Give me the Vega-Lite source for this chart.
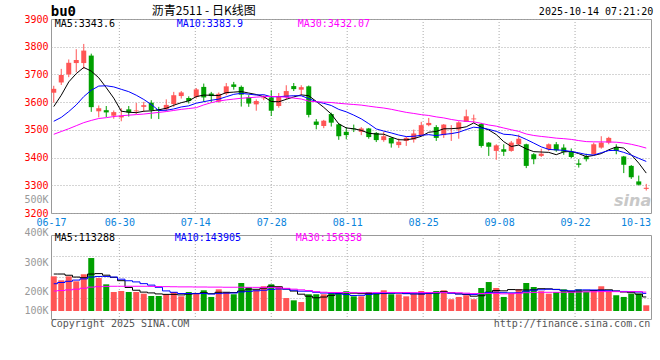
{
  "$schema": "https://vega.github.io/schema/vega-lite/v6.json",
  "background": "white",
  "padding": {"left": 23, "top": 4, "right": 5, "bottom": 5},
  "bounds": "flush",
  "spacing": 22,
  "config": {
    "view": {"stroke": "#999999"},
    "axis": {"labelFont": "DejaVu Sans Mono", "labelFontSize": 10, "labelOverlap": false},
    "text": {"font": "DejaVu Sans Mono", "fontSize": 10}
  },
  "datasets": {
    "one": [{}],
    "grid": [
      {"d": "06-30", "k": 9}, {"d": "07-14", "k": 19}, {"d": "07-28", "k": 29}, {"d": "08-11", "k": 39},
      {"d": "08-25", "k": 49}, {"d": "09-08", "k": 59}, {"d": "09-22", "k": 69}
    ],
    "k": [
      {"d":"06-17","o":3634,"h":3659,"l":3598,"c":3648,"v":286000,"ma5":3584,"ma10":3531,"ma30":3484,"vma5":305000,"vma10":225000,"vma30":165000},
      {"d":"06-18","o":3671,"h":3720,"l":3662,"c":3698,"v":253000,"ma5":3625,"ma10":3545,"ma30":3494,"vma5":305000,"vma10":235000,"vma30":169000},
      {"d":"06-19","o":3700,"h":3754,"l":3690,"c":3742,"v":286000,"ma5":3673,"ma10":3566,"ma30":3504,"vma5":295000,"vma10":245000,"vma30":174000},
      {"d":"06-20","o":3741,"h":3791,"l":3708,"c":3752,"v":245000,"ma5":3703,"ma10":3590,"ma30":3515,"vma5":280000,"vma10":255000,"vma30":180000},
      {"d":"06-23","o":3741,"h":3810,"l":3720,"c":3786,"v":303000,"ma5":3725.2,"ma10":3620,"ma30":3526,"vma5":274600,"vma10":265000,"vma30":188000},
      {"d":"06-24","o":3768,"h":3775,"l":3565,"c":3582,"v":437000,"ma5":3712,"ma10":3643,"ma30":3534,"vma5":304800,"vma10":280000,"vma30":197000},
      {"d":"06-25","o":3567,"h":3588,"l":3545,"c":3578,"v":272000,"ma5":3688,"ma10":3658,"ma30":3541,"vma5":308600,"vma10":285000,"vma30":201000},
      {"d":"06-26","o":3571,"h":3586,"l":3546,"c":3563,"v":220000,"ma5":3652.2,"ma10":3659,"ma30":3544,"vma5":295400,"vma10":285000,"vma30":203000},
      {"d":"06-27","o":3551,"h":3570,"l":3540,"c":3564,"v":157000,"ma5":3614.6,"ma10":3655,"ma30":3548,"vma5":277800,"vma10":280000,"vma30":204000},
      {"d":"06-30","o":3545,"h":3578,"l":3531,"c":3550,"v":165000,"ma5":3567.4,"ma10":3646.3,"ma30":3551,"vma5":250200,"vma10":262400,"vma30":204000},
      {"d":"07-01","o":3574,"h":3586,"l":3548,"c":3563,"v":157000,"ma5":3563.6,"ma10":3637.8,"ma30":3553,"vma5":194200,"vma10":249500,"vma30":204000},
      {"d":"07-02","o":3567,"h":3597,"l":3557,"c":3570,"v":157000,"ma5":3562,"ma10":3625,"ma30":3555,"vma5":171200,"vma10":239900,"vma30":204000},
      {"d":"07-03","o":3583,"h":3601,"l":3565,"c":3589,"v":143000,"ma5":3567.2,"ma10":3609.7,"ma30":3557,"vma5":155800,"vma10":225600,"vma30":204000},
      {"d":"07-04","o":3598,"h":3607,"l":3540,"c":3571,"v":124000,"ma5":3568.6,"ma10":3591.6,"ma30":3560,"vma5":149200,"vma10":213500,"vma30":203000},
      {"d":"07-07","o":3575,"h":3583,"l":3539,"c":3569,"v":124000,"ma5":3572.4,"ma10":3569.9,"ma30":3563,"vma5":141000,"vma10":195600,"vma30":202000},
      {"d":"07-08","o":3574,"h":3610,"l":3568,"c":3590,"v":138000,"ma5":3577.8,"ma10":3570.7,"ma30":3566,"vma5":137200,"vma10":165700,"vma30":201000},
      {"d":"07-09","o":3593,"h":3637,"l":3583,"c":3625,"v":157000,"ma5":3588.8,"ma10":3575.4,"ma30":3570,"vma5":137200,"vma10":154200,"vma30":200000},
      {"d":"07-10","o":3622,"h":3640,"l":3613,"c":3635,"v":121000,"ma5":3598,"ma10":3582.6,"ma30":3574,"vma5":132800,"vma10":144300,"vma30":199000},
      {"d":"07-11","o":3615,"h":3621,"l":3595,"c":3604,"v":157000,"ma5":3604.6,"ma10":3586.6,"ma30":3577,"vma5":139400,"vma10":144300,"vma30":199000},
      {"d":"07-14","o":3619,"h":3651,"l":3613,"c":3646,"v":149000,"ma5":3620,"ma10":3596.2,"ma30":3580,"vma5":144400,"vma10":142700,"vma30":198000},
      {"d":"07-15","o":3655,"h":3667,"l":3601,"c":3617,"v":171000,"ma5":3625.4,"ma10":3601.6,"ma30":3590,"vma5":151000,"vma10":144100,"vma30":198000},
      {"d":"07-16","o":3631,"h":3637,"l":3599,"c":3622,"v":116000,"ma5":3624.8,"ma10":3606.8,"ma30":3598,"vma5":142800,"vma10":140000,"vma30":197000},
      {"d":"07-17","o":3602,"h":3635,"l":3598,"c":3630,"v":179000,"ma5":3623.8,"ma10":3610.9,"ma30":3604,"vma5":154400,"vma10":143600,"vma30":197000},
      {"d":"07-18","o":3631,"h":3669,"l":3625,"c":3657,"v":157000,"ma5":3634.4,"ma10":3619.5,"ma30":3608,"vma5":154400,"vma10":146900,"vma30":196000},
      {"d":"07-21","o":3664,"h":3673,"l":3645,"c":3655,"v":138000,"ma5":3636.2,"ma10":3628.1,"ma30":3611,"vma5":152200,"vma10":148300,"vma30":196000},
      {"d":"07-22","o":3655,"h":3660,"l":3584,"c":3627,"v":231000,"ma5":3638.2,"ma10":3631.8,"ma30":3614,"vma5":164200,"vma10":157600,"vma30":196000},
      {"d":"07-23","o":3617,"h":3625,"l":3583,"c":3595,"v":198000,"ma5":3632.8,"ma10":3628.8,"ma30":3616,"vma5":180600,"vma10":161700,"vma30":195000},
      {"d":"07-24","o":3592,"h":3610,"l":3569,"c":3604,"v":171000,"ma5":3627.6,"ma10":3625.7,"ma30":3618,"vma5":179000,"vma10":166700,"vma30":195000},
      {"d":"07-25","o":3614,"h":3625,"l":3607,"c":3617,"v":204000,"ma5":3619.6,"ma10":3627,"ma30":3620,"vma5":188400,"vma10":171400,"vma30":195000},
      {"d":"07-28","o":3617,"h":3643,"l":3550,"c":3569,"v":220000,"ma5":3602.4,"ma10":3619.3,"ma30":3620.6,"vma5":204800,"vma10":178500,"vma30":194500},
      {"d":"07-29","o":3586,"h":3633,"l":3580,"c":3621,"v":204000,"ma5":3601.2,"ma10":3619.7,"ma30":3619.7,"vma5":199400,"vma10":181800,"vma30":191800},
      {"d":"07-30","o":3619,"h":3661,"l":3610,"c":3640,"v":107000,"ma5":3610.2,"ma10":3621.5,"ma30":3617.8,"vma5":181200,"vma10":180900,"vma30":186900},
      {"d":"07-31","o":3658,"h":3669,"l":3640,"c":3647,"v":88000,"ma5":3618.8,"ma10":3623.2,"ma30":3614.6,"vma5":164600,"vma10":171800,"vma30":180300},
      {"d":"08-01","o":3645,"h":3661,"l":3625,"c":3654,"v":74000,"ma5":3626.2,"ma10":3622.9,"ma30":3611.3,"vma5":138600,"vma10":163500,"vma30":174600},
      {"d":"08-04","o":3657,"h":3660,"l":3545,"c":3554,"v":138000,"ma5":3623.2,"ma10":3612.8,"ma30":3603.6,"vma5":122200,"vma10":163500,"vma30":169100},
      {"d":"08-05","o":3530,"h":3539,"l":3502,"c":3518,"v":138000,"ma5":3602.6,"ma10":3601.9,"ma30":3601.5,"vma5":109000,"vma10":154200,"vma30":159200},
      {"d":"08-06","o":3514,"h":3536,"l":3506,"c":3533,"v":138000,"ma5":3581.2,"ma10":3595.7,"ma30":3600,"vma5":115200,"vma10":148200,"vma30":154700},
      {"d":"08-07","o":3557,"h":3562,"l":3512,"c":3526,"v":157000,"ma5":3557,"ma10":3587.9,"ma30":3598.7,"vma5":129000,"vma10":146800,"vma30":152600},
      {"d":"08-08","o":3520,"h":3524,"l":3464,"c":3477,"v":157000,"ma5":3521.6,"ma10":3573.9,"ma30":3595.8,"vma5":145600,"vma10":142100,"vma30":152600},
      {"d":"08-11","o":3493,"h":3510,"l":3466,"c":3481,"v":163000,"ma5":3507,"ma10":3565.1,"ma30":3593.5,"vma5":150600,"vma10":136400,"vma30":152500},
      {"d":"08-12","o":3505,"h":3519,"l":3492,"c":3502,"v":121000,"ma5":3503.8,"ma10":3553.2,"ma30":3591.5,"vma5":147200,"vma10":128100,"vma30":151300},
      {"d":"08-13","o":3493,"h":3510,"l":3481,"c":3505,"v":121000,"ma5":3498.2,"ma10":3539.7,"ma30":3589.3,"vma5":143800,"vma10":129500,"vma30":150100},
      {"d":"08-14","o":3505,"h":3507,"l":3468,"c":3474,"v":157000,"ma5":3487.8,"ma10":3522.4,"ma30":3585.5,"vma5":143800,"vma10":136400,"vma30":150600},
      {"d":"08-15","o":3489,"h":3492,"l":3456,"c":3463,"v":149000,"ma5":3485,"ma10":3503.3,"ma30":3581.9,"vma5":142200,"vma10":143900,"vma30":151400},
      {"d":"08-18","o":3463,"h":3493,"l":3457,"c":3477,"v":171000,"ma5":3484.2,"ma10":3495.6,"ma30":3578.8,"vma5":143800,"vma10":147200,"vma30":153000},
      {"d":"08-19","o":3471,"h":3474,"l":3436,"c":3451,"v":138000,"ma5":3474,"ma10":3488.9,"ma30":3574.2,"vma5":147200,"vma10":147200,"vma30":153000},
      {"d":"08-20","o":3445,"h":3469,"l":3435,"c":3457,"v":138000,"ma5":3464.4,"ma10":3481.3,"ma30":3568.6,"vma5":150600,"vma10":147200,"vma30":152400},
      {"d":"08-21","o":3460,"h":3475,"l":3442,"c":3471,"v":121000,"ma5":3463.8,"ma10":3475.8,"ma30":3563.1,"vma5":143400,"vma10":143600,"vma30":152400},
      {"d":"08-22","o":3465,"h":3501,"l":3454,"c":3487,"v":138000,"ma5":3468.6,"ma10":3476.8,"ma30":3559.2,"vma5":141200,"vma10":141700,"vma30":151700},
      {"d":"08-25","o":3481,"h":3529,"l":3477,"c":3517,"v":165000,"ma5":3476.6,"ma10":3480.4,"ma30":3554.9,"vma5":140000,"vma10":141900,"vma30":152300},
      {"d":"08-26","o":3517,"h":3543,"l":3513,"c":3525,"v":157000,"ma5":3491.4,"ma10":3482.7,"ma30":3551.9,"vma5":143800,"vma10":145500,"vma30":151800},
      {"d":"08-27","o":3510,"h":3517,"l":3460,"c":3471,"v":165000,"ma5":3494.2,"ma10":3479.3,"ma30":3546.8,"vma5":149200,"vma10":149900,"vma30":153400},
      {"d":"08-28","o":3481,"h":3521,"l":3471,"c":3519,"v":171000,"ma5":3503.8,"ma10":3483.8,"ma30":3543.1,"vma5":159200,"vma10":151300,"vma30":153200},
      {"d":"08-29","o":3487,"h":3517,"l":3460,"c":3489,"v":97000,"ma5":3504.2,"ma10":3486.4,"ma30":3537.5,"vma5":151000,"vma10":146100,"vma30":151200},
      {"d":"09-01","o":3501,"h":3531,"l":3468,"c":3527,"v":116000,"ma5":3506.2,"ma10":3491.4,"ma30":3533.3,"vma5":141200,"vma10":140600,"vma30":150400},
      {"d":"09-02","o":3529,"h":3573,"l":3529,"c":3549,"v":130000,"ma5":3511,"ma10":3501.2,"ma30":3530.7,"vma5":135800,"vma10":139800,"vma30":147100},
      {"d":"09-03","o":3538,"h":3555,"l":3525,"c":3541,"v":97000,"ma5":3525,"ma10":3509.6,"ma30":3528.9,"vma5":122200,"vma10":135700,"vma30":143700},
      {"d":"09-04","o":3521,"h":3525,"l":3436,"c":3442,"v":190000,"ma5":3509.6,"ma10":3506.7,"ma30":3523.5,"vma5":126000,"vma10":142600,"vma30":144300},
      {"d":"09-05","o":3454,"h":3456,"l":3406,"c":3439,"v":239000,"ma5":3499.6,"ma10":3501.9,"ma30":3517.5,"vma5":154400,"vma10":152700,"vma30":145500},
      {"d":"09-08","o":3424,"h":3448,"l":3392,"c":3444,"v":190000,"ma5":3483,"ma10":3494.6,"ma30":3513.4,"vma5":169200,"vma10":155200,"vma30":144500},
      {"d":"09-09","o":3430,"h":3448,"l":3406,"c":3421,"v":116000,"ma5":3457.4,"ma10":3484.2,"ma30":3506.7,"vma5":166400,"vma10":151100,"vma30":141600},
      {"d":"09-10","o":3424,"h":3460,"l":3421,"c":3454,"v":149000,"ma5":3440,"ma10":3482.5,"ma30":3500.5,"vma5":176800,"vma10":149500,"vma30":143000},
      {"d":"09-11","o":3448,"h":3483,"l":3444,"c":3468,"v":179000,"ma5":3445.2,"ma10":3477.4,"ma30":3494.5,"vma5":174600,"vma10":150300,"vma30":146000},
      {"d":"09-12","o":3448,"h":3450,"l":3362,"c":3370,"v":231000,"ma5":3431.4,"ma10":3465.5,"ma30":3485.1,"vma5":173000,"vma10":163700,"vma30":151200},
      {"d":"09-15","o":3412,"h":3416,"l":3376,"c":3394,"v":198000,"ma5":3421.4,"ma10":3452.2,"ma30":3479.7,"vma5":174600,"vma10":171900,"vma30":153200},
      {"d":"09-16","o":3406,"h":3432,"l":3402,"c":3414,"v":163000,"ma5":3420,"ma10":3438.7,"ma30":3476.3,"vma5":184000,"vma10":175200,"vma30":154100},
      {"d":"09-17","o":3430,"h":3451,"l":3424,"c":3448,"v":143000,"ma5":3418.8,"ma10":3429.4,"ma30":3473.4,"vma5":182800,"vma10":179800,"vma30":154200},
      {"d":"09-18","o":3448,"h":3456,"l":3421,"c":3426,"v":157000,"ma5":3410.4,"ma10":3427.8,"ma30":3470.1,"vma5":178400,"vma10":176500,"vma30":154200},
      {"d":"09-19","o":3436,"h":3448,"l":3410,"c":3421,"v":179000,"ma5":3420.6,"ma10":3426,"ma30":3468.2,"vma5":168000,"vma10":170500,"vma30":155000},
      {"d":"09-22","o":3421,"h":3433,"l":3398,"c":3402,"v":157000,"ma5":3422.2,"ma10":3421.8,"ma30":3465.6,"vma5":159800,"vma10":167200,"vma30":154800},
      {"d":"09-23","o":3379,"h":3394,"l":3364,"c":3374,"v":179000,"ma5":3414.2,"ma10":3417.1,"ma30":3461.3,"vma5":163000,"vma10":173500,"vma30":156700},
      {"d":"09-24","o":3404,"h":3414,"l":3386,"c":3394,"v":157000,"ma5":3403.4,"ma10":3411.1,"ma30":3457.6,"vma5":165800,"vma10":174300,"vma30":157900},
      {"d":"09-25","o":3412,"h":3454,"l":3410,"c":3448,"v":171000,"ma5":3407.8,"ma10":3409.1,"ma30":3456.8,"vma5":168600,"vma10":173500,"vma30":158400},
      {"d":"09-26","o":3436,"h":3477,"l":3432,"c":3454,"v":204000,"ma5":3414.4,"ma10":3417.5,"ma30":3456.5,"vma5":173600,"vma10":170800,"vma30":160200},
      {"d":"09-29","o":3454,"h":3475,"l":3448,"c":3471,"v":163000,"ma5":3428.2,"ma10":3425.2,"ma30":3456.3,"vma5":174800,"vma10":167300,"vma30":159900},
      {"d":"09-30","o":3438,"h":3448,"l":3412,"c":3424,"v":130000,"ma5":3438.2,"ma10":3426.2,"ma30":3455.4,"vma5":165000,"vma10":164000,"vma30":159700},
      {"d":"10-09","o":3404,"h":3406,"l":3344,"c":3374,"v":116000,"ma5":3434.2,"ma10":3418.8,"ma30":3452.6,"vma5":156800,"vma10":161300,"vma30":158900},
      {"d":"10-10","o":3370,"h":3373,"l":3323,"c":3329,"v":143000,"ma5":3410.4,"ma10":3409.1,"ma30":3447.9,"vma5":151200,"vma10":159900,"vma30":159700},
      {"d":"10-13","o":3314,"h":3335,"l":3299,"c":3302,"v":143000,"ma5":3380,"ma10":3397.2,"ma30":3441.7,"vma5":139000,"vma10":156300,"vma30":159800},
      {"d":"10-14","o":3287,"h":3305,"l":3281,"c":3291,"v":47000,"ma5":3344,"ma10":3386.1,"ma30":3434.2,"vma5":115800,"vma10":145300,"vma30":155900}
    ]
  },
  "vconcat": [
    {
      "width": 600,
      "height": 194,
      "layer": [
        {
          "data": {"name": "grid"},
          "mark": {"type": "rule", "color": "#aaaaaa", "strokeDash": [1, 2]},
          "encoding": {
            "x": {
              "field": "k", "type": "quantitative",
              "scale": {"domain": [0, 79], "nice": false, "zero": false},
              "axis": {
                "title": null, "values": [0, 9, 19, 29, 39, 49, 59, 69, 76.95],
                "labelExpr": "datum.value == 0 ? '06-17' : datum.value == 9 ? '06-30' : datum.value == 19 ? '07-14' : datum.value == 29 ? '07-28' : datum.value == 39 ? '08-11' : datum.value == 49 ? '08-25' : datum.value == 59 ? '09-08' : datum.value == 69 ? '09-22' : '10-13'",
                "grid": false, "ticks": false, "domain": false, "labelFlush": false,
                "labelColor": "#0a84dc", "labelPadding": 4
              }
            }
          }
        },
        {
          "data": {"name": "k"},
          "encoding": {
            "x": {"field": "d", "type": "ordinal", "axis": null, "scale": {"paddingInner": 0, "paddingOuter": 0}}
          },
          "layer": [
            {
              "mark": {"type": "rule", "xOffset": -1, "strokeWidth": 1},
              "encoding": {
                "y": {
                  "field": "l", "type": "quantitative",
                  "scale": {"domain": [3200, 3900], "nice": false, "zero": false},
                  "axis": {
                    "title": null, "values": [3200, 3300, 3400, 3500, 3600, 3700, 3800, 3900, 3247],
                    "format": "d",
                    "labelExpr": "datum.value == 3247 ? '500K' : datum.label",
                    "labelColor": {"condition": {"test": "datum.value == 3247", "value": "#999999"}, "value": "#ff0000"},
                    "grid": true, "gridColor": "#aaaaaa", "gridDash": [1, 2],
                    "gridOpacity": {"condition": {"test": "datum.value == 3247", "value": 0}, "value": 1},
                    "ticks": false, "domain": false, "labelPadding": 3
                  }
                },
                "y2": {"field": "h"},
                "color": {"condition": {"test": "datum.c >= datum.o", "value": "#ff5555"}, "value": "#00a000"}
              }
            },
            {
              "mark": {"type": "bar", "width": 5, "xOffset": -1},
              "encoding": {
                "y": {"field": "o", "type": "quantitative", "axis": null},
                "y2": {"field": "c"},
                "color": {"condition": {"test": "datum.c >= datum.o", "value": "#ff5555"}, "value": "#00a000"}
              }
            },
            {
              "transform": [{"fold": ["ma5", "ma10", "ma30"], "as": ["s", "val"]}],
              "mark": {"type": "line", "strokeWidth": 1, "xOffset": -1},
              "encoding": {
                "y": {"field": "val", "type": "quantitative", "axis": null},
                "color": {"field": "s", "type": "nominal", "legend": null,
                  "scale": {"domain": ["ma5", "ma10", "ma30"], "range": ["#000000", "#0000ff", "#ff00ff"]}}
              }
            },
            {
              "data": {"name": "one"},
              "mark": {"type": "text", "align": "left", "baseline": "middle", "color": "#000000"},
              "encoding": {"x": {"datum": "06-17", "type": "ordinal"}, "y": {"datum": 3881, "type": "quantitative", "axis": null}, "text": {"value": "MA5:3343.6"}}
            },
            {
              "data": {"name": "one"},
              "mark": {"type": "text", "align": "left", "baseline": "middle", "color": "#0000ff", "dx": 2},
              "encoding": {"x": {"datum": "07-09", "type": "ordinal"}, "y": {"datum": 3881, "type": "quantitative", "axis": null}, "text": {"value": "MA10:3383.9"}}
            },
            {
              "data": {"name": "one"},
              "mark": {"type": "text", "align": "left", "baseline": "middle", "color": "#ff00ff", "dx": 3},
              "encoding": {"x": {"datum": "07-31", "type": "ordinal"}, "y": {"datum": 3881, "type": "quantitative", "axis": null}, "text": {"value": "MA30:3432.07"}}
            },
            {
              "data": {"name": "one"},
              "mark": {"type": "text", "align": "left", "baseline": "middle", "color": "#000000", "dx": -4, "fontSize": 14, "fontWeight": "bold"},
              "encoding": {"x": {"datum": "06-17", "type": "ordinal"}, "y": {"datum": 3927, "type": "quantitative", "axis": null}, "text": {"value": "bu0"}}
            },
            {
              "data": {"name": "one"},
              "mark": {"type": "text", "align": "center", "baseline": "middle", "color": "#000000", "dx": -1, "font": "Noto Sans CJK SC", "fontSize": 12},
              "encoding": {"x": {"datum": "07-15", "type": "ordinal"}, "y": {"datum": 3928, "type": "quantitative", "axis": null}, "text": {"value": "沥青2511 - 日K线图"}}
            },
            {
              "data": {"name": "one"},
              "mark": {"type": "text", "align": "right", "baseline": "middle", "color": "#000000", "dx": 6},
              "encoding": {"x": {"datum": "10-14", "type": "ordinal"}, "y": {"datum": 3926, "type": "quantitative", "axis": null}, "text": {"value": "2025-10-14 07:21:20"}}
            },
            {
              "data": {"name": "one"},
              "mark": {"type": "text", "align": "right", "baseline": "middle", "color": "#c8c8c8", "dx": 4, "font": "DejaVu Sans", "fontSize": 16, "fontStyle": "italic", "fontWeight": "bold"},
              "encoding": {"x": {"datum": "10-14", "type": "ordinal"}, "y": {"datum": 3243, "type": "quantitative", "axis": null}, "text": {"value": "sina"}}
            }
          ],
          "resolve": {"axis": {"y": "independent"}}
        }
      ],
      "resolve": {"scale": {"x": "independent"}, "axis": {"x": "independent"}}
    },
    {
      "width": 600,
      "height": 84,
      "layer": [
        {
          "data": {"name": "grid"},
          "mark": {"type": "rule", "color": "#aaaaaa", "strokeDash": [1, 2]},
          "encoding": {
            "x": {"field": "k", "type": "quantitative", "scale": {"domain": [0, 79], "nice": false, "zero": false}, "axis": null}
          }
        },
        {
          "data": {"name": "k"},
          "encoding": {
            "x": {"field": "d", "type": "ordinal", "axis": null, "scale": {"paddingInner": 0, "paddingOuter": 0}}
          },
          "layer": [
            {
              "mark": {"type": "bar", "width": 6, "xOffset": -1},
              "encoding": {
                "y": {
                  "field": "v", "type": "quantitative",
                  "scale": {"domain": [-66000, 627000], "nice": false, "zero": false},
                  "axis": {
                    "title": null, "values": [8250, 165000, 404250, 627000],
                    "labelExpr": "datum.value < 100000 ? '100K' : datum.value < 300000 ? '200K' : datum.value < 500000 ? '300K' : '400K'",
                    "labelColor": "#999999",
                    "labelBaseline": {"condition": {"test": "datum.value > 600000", "value": "alphabetic"}, "value": "middle"},
                    "grid": false, "ticks": false, "domain": false, "labelPadding": 3
                  }
                },
                "y2": {"datum": 0},
                "color": {"condition": {"test": "datum.c >= datum.o", "value": "#ff5555"}, "value": "#00a000"}
              }
            },
            {
              "transform": [{"fold": ["vma5", "vma10", "vma30"], "as": ["s", "val"]}],
              "mark": {"type": "line", "strokeWidth": 1, "interpolate": "step", "xOffset": -1},
              "encoding": {
                "y": {
                  "field": "val", "type": "quantitative",
                  "axis": {"title": null, "orient": "right", "labels": false, "ticks": false, "domain": false,
                    "grid": true, "gridColor": "#aaaaaa", "gridDash": [1, 2], "values": [107250, 280500, 453750]}
                },
                "color": {"field": "s", "type": "nominal", "legend": null,
                  "scale": {"domain": ["vma5", "vma10", "vma30"], "range": ["#000000", "#0000ff", "#ff00ff"]}}
              }
            },
            {
              "data": {"name": "one"},
              "mark": {"type": "text", "align": "left", "baseline": "middle", "color": "#000000"},
              "encoding": {"x": {"datum": "06-17", "type": "ordinal"}, "y": {"datum": 602250, "type": "quantitative", "axis": null}, "text": {"value": "MA5:113288"}}
            },
            {
              "data": {"name": "one"},
              "mark": {"type": "text", "align": "left", "baseline": "middle", "color": "#0000ff"},
              "encoding": {"x": {"datum": "07-09", "type": "ordinal"}, "y": {"datum": 602250, "type": "quantitative", "axis": null}, "text": {"value": "MA10:143905"}}
            },
            {
              "data": {"name": "one"},
              "mark": {"type": "text", "align": "left", "baseline": "middle", "color": "#ff00ff", "dx": 1},
              "encoding": {"x": {"datum": "07-31", "type": "ordinal"}, "y": {"datum": 602250, "type": "quantitative", "axis": null}, "text": {"value": "MA30:156358"}}
            },
            {
              "data": {"name": "one"},
              "mark": {"type": "text", "align": "left", "baseline": "middle", "color": "#555555", "dx": -4},
              "encoding": {"x": {"datum": "06-17", "type": "ordinal"}, "y": {"datum": -107250, "type": "quantitative", "axis": null}, "text": {"value": "Copyright 2025 SINA.COM"}}
            },
            {
              "data": {"name": "one"},
              "mark": {"type": "text", "align": "right", "baseline": "middle", "color": "#555555", "dx": 3},
              "encoding": {"x": {"datum": "10-14", "type": "ordinal"}, "y": {"datum": -107250, "type": "quantitative", "axis": null}, "text": {"value": "http://finance.sina.com.cn"}}
            }
          ],
          "resolve": {"axis": {"y": "independent"}}
        }
      ],
      "resolve": {"scale": {"x": "independent"}}
    }
  ]
}
